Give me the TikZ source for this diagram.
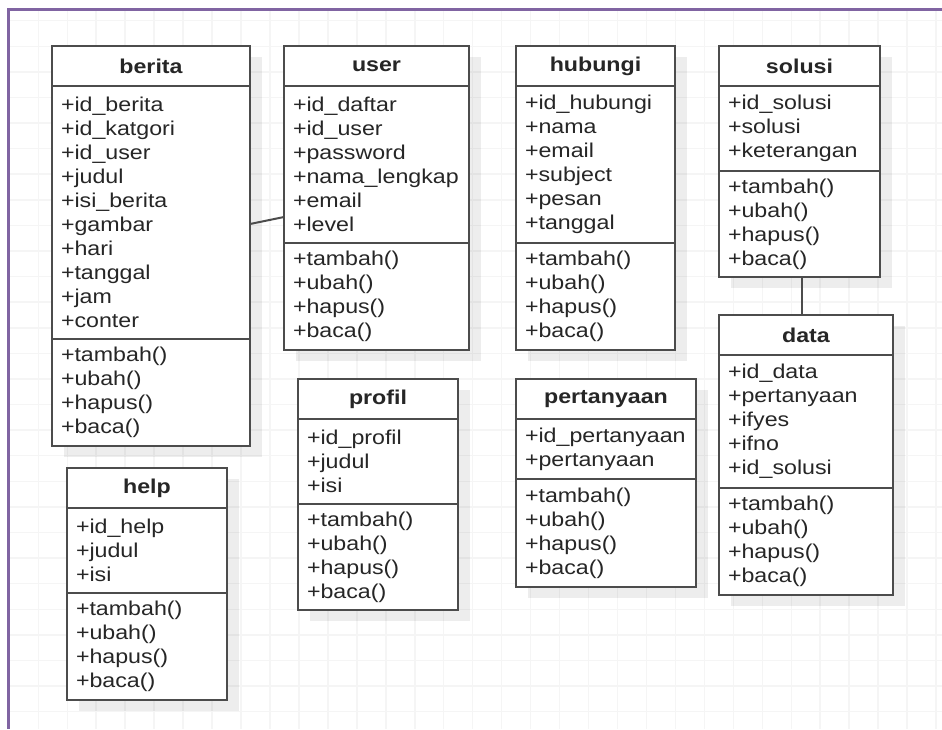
\documentclass[tikz,border=0pt]{standalone}
\usepackage{fontspec}
\setmainfont{Liberation Sans}[FakeStretch=1.16]
\usetikzlibrary{positioning,shadows}
\definecolor{borderpurple}{RGB}{128,100,162}
\newcommand{\crudops}{+tambah()\\+ubah()\\+hapus()\\+baca()}

\begin{document}
\begin{tikzpicture}[x=1pt, y=-1pt,
                    node distance=0pt,
                    line width=2pt]
    \tikzstyle{gridline}=[line width=1.5pt, draw=black!4]
    \tikzstyle{box}=[draw=black!70, fill=white, outer sep=0pt, text=black!85,
                     font=\fontsize{20}{24}\selectfont,
                     drop shadow={shadow xshift=12pt, shadow yshift=-11pt, fill=black, opacity=0.07}]
    \tikzstyle{head}=[box, anchor=north west, minimum height=40pt, inner sep=0pt,
                      font=\fontsize{20}{24}\selectfont\bfseries]
    \tikzstyle{body}=[box, align=left, inner xsep=9pt, inner ysep=0pt];
    \tikzstyle{link}=[draw=black!70, line width=2pt];

    \useasboundingbox (0,0) rectangle (942,729);

    % background grid and frame
    \foreach \gx in {0,...,31}
        \draw[gridline] (38.3+28.96*\gx,11) -- (38.3+28.96*\gx,729);
    \foreach \gy in {0,...,27}
        \draw[gridline] (10,20.7+25.59*\gy) -- (942,20.7+25.59*\gy);
    \draw[borderpurple, line width=3pt] (942,9.5) -- (8.5,9.5) -- (8.5,729);

    % berita
    \node[head, minimum width=198pt] (berita) at (52,46) {berita};
    \node[body, text width=180pt, minimum height=253pt, below=of berita] (berita-attr)
        {+id\_berita\\+id\_katgori\\+id\_user\\+judul\\+isi\_berita\\+gambar\\+hari\\+tanggal\\+jam\\+conter};
    \node[body, text width=180pt, minimum height=107pt, below=of berita-attr] (berita-op) {\crudops};

    % user
    \node[head, minimum width=185pt] (user) at (284,46) {user};
    \node[body, text width=167pt, minimum height=157pt, below=of user] (user-attr)
        {+id\_daftar\\+id\_user\\+password\\+nama\_lengkap\\+email\\+level};
    \node[body, text width=167pt, minimum height=107pt, below=of user-attr] (user-op) {\crudops};

    % hubungi
    \node[head, minimum width=159pt] (hubungi) at (516,46) {hubungi};
    \node[body, text width=141pt, minimum height=157pt, below=of hubungi] (hubungi-attr)
        {+id\_hubungi\\+nama\\+email\\+subject\\+pesan\\+tanggal};
    \node[body, text width=141pt, minimum height=107pt, below=of hubungi-attr] (hubungi-op) {\crudops};

    % solusi
    \node[head, minimum width=161pt] (solusi) at (719,46) {solusi};
    \node[body, text width=143pt, minimum height=85pt, below=of solusi] (solusi-attr)
        {+id\_solusi\\+solusi\\+keterangan};
    \node[body, text width=143pt, minimum height=106pt, below=of solusi-attr] (solusi-op) {\crudops};

    % data
    \node[head, minimum width=174pt] (data) at (719,315) {data};
    \node[body, text width=156pt, minimum height=133pt, below=of data] (data-attr)
        {+id\_data\\+pertanyaan\\+ifyes\\+ifno\\+id\_solusi};
    \node[body, text width=156pt, minimum height=107pt, below=of data-attr] (data-op) {\crudops};

    % profil
    \node[head, minimum width=160pt] (profil) at (298,379) {profil};
    \node[body, text width=142pt, minimum height=85pt, below=of profil] (profil-attr)
        {+id\_profil\\+judul\\+isi};
    \node[body, text width=142pt, minimum height=106pt, below=of profil-attr] (profil-op) {\crudops};

    % pertanyaan
    \node[head, minimum width=180pt] (pertanyaan) at (516,379) {pertanyaan};
    \node[body, text width=162pt, minimum height=60pt, below=of pertanyaan] (pertanyaan-attr)
        {+id\_pertanyaan\\+pertanyaan};
    \node[body, text width=162pt, minimum height=108pt, below=of pertanyaan-attr] (pertanyaan-op) {\crudops};

    % help
    \node[head, minimum width=160pt] (help) at (67,468) {help};
    \node[body, text width=142pt, minimum height=85pt, below=of help] (help-attr)
        {+id\_help\\+judul\\+isi};
    \node[body, text width=142pt, minimum height=107pt, below=of help-attr] (help-op) {\crudops};

    % associations
    \draw[link] ([yshift=-11.5pt]berita-attr.east) -- ([yshift=-52.5pt]user-attr.west);
    \draw[link] ([xshift=2.5pt]solusi-op.south) -- ([xshift=2.5pt]solusi-op.south |- data.north);
\end{tikzpicture}
\end{document}
